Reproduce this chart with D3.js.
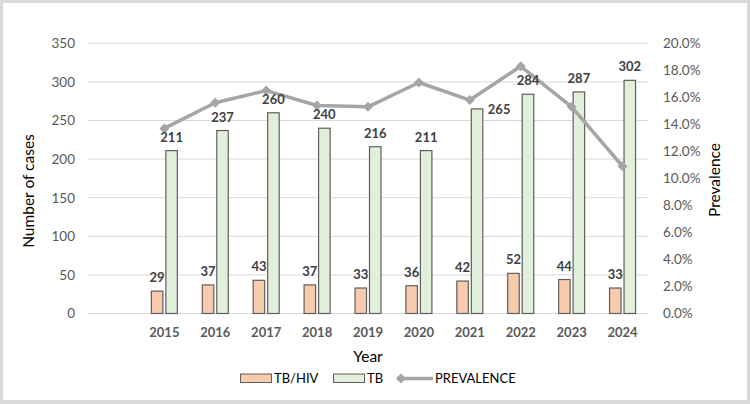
<!DOCTYPE html>
<html><head><meta charset="utf-8">
<script src="https://cdn.jsdelivr.net/npm/d3@7"></script>
<style>
html,body{margin:0;padding:0;background:#d9d9d9;}
svg{display:block;font-family:Lato,"Open Sans",sans-serif;}
</style></head>
<body>
<svg id="c" width="750" height="404"></svg>
<script>
const years = ["2015","2016","2017","2018","2019","2020","2021","2022","2023","2024"];
const tbHiv = [29,37,43,37,33,36,42,52,44,33];
const tb = [211,237,260,240,216,211,265,284,287,302];
const prevalence = [0.137,0.156,0.165,0.154,0.153,0.171,0.158,0.183,0.153,0.109];
const leftTicks = [0,50,100,150,200,250,300,350];
const rightTicks = [0,0.02,0.04,0.06,0.08,0.10,0.12,0.14,0.16,0.18,0.20];
const tbLabelSide = ["top","top","top","top","top","top","right","top","top","top"];

const svg = d3.select("#c");
svg.append("rect").attr("x",3).attr("y",3).attr("width",744).attr("height",397).attr("fill","#fff");

const x = d3.scaleBand().domain([""].concat(years)).range([88,648]).padding(0);
const y = d3.scaleLinear().domain([0,350]).range([313.5,43.3]);
const y2 = d3.scaleLinear().domain([0,0.2]).range([313.5,43.3]);
const cx = d => x(d) + x.bandwidth()/2;

// gridlines
svg.append("g").selectAll("line").data(leftTicks).join("line")
  .attr("x1",88).attr("x2",648).attr("y1",d=>y(d)).attr("y2",d=>y(d))
  .attr("stroke","#d9d9d9").attr("stroke-width",1);

// left axis
const gl = svg.append("g").attr("transform","translate(88,0)")
  .call(d3.axisLeft(y).tickValues(leftTicks).tickSize(0).tickPadding(13));
gl.select(".domain").remove();
gl.selectAll("text").attr("font-size",13.5).attr("fill","#595959").attr("font-family","Lato");

// right axis
const gr = svg.append("g").attr("transform","translate(648,0)")
  .call(d3.axisRight(y2).tickValues(rightTicks).tickSize(0).tickPadding(15).tickFormat(d3.format(".1%")));
gr.select(".domain").remove();
gr.selectAll("text").attr("font-size",13.5).attr("fill","#595959").attr("font-family","Lato");

// x axis
const gx = svg.append("g").attr("transform","translate(0,313.5)")
  .call(d3.axisBottom(x).tickSize(0).tickPadding(14));
gx.select(".domain").remove();
gx.selectAll("text").attr("font-size",13).attr("font-weight","bold").attr("fill","#595959").attr("font-family","Lato");

const bw = 11.5, gap = 1.5;
// TB/HIV bars
svg.append("g").selectAll("rect").data(years).join("rect")
  .attr("x",(d)=>cx(d)-gap-bw).attr("width",bw)
  .attr("y",(d,i)=>y(tbHiv[i])).attr("height",(d,i)=>y(0)-y(tbHiv[i]))
  .attr("fill","#f8cbad").attr("stroke","#5f5f5f").attr("stroke-width",1.2);
// TB bars
svg.append("g").selectAll("rect").data(years).join("rect")
  .attr("x",(d)=>cx(d)+gap).attr("width",bw)
  .attr("y",(d,i)=>y(tb[i])).attr("height",(d,i)=>y(0)-y(tb[i]))
  .attr("fill","#e2efda").attr("stroke","#5f5f5f").attr("stroke-width",1.2);

// line
const line = d3.line().x(d=>cx(d.year)).y(d=>y2(d.v));
const pts = years.map((yr,i)=>({year:yr,v:prevalence[i]}));
svg.append("path").datum(pts).attr("d",line).attr("fill","none")
  .attr("stroke","#a5a5a5").attr("stroke-width",3.5).attr("stroke-linejoin","round");
const dm = 5;
svg.append("g").selectAll("path").data(pts).join("path")
  .attr("d",d=>`M${cx(d.year)},${y2(d.v)-dm}L${cx(d.year)+dm},${y2(d.v)}L${cx(d.year)},${y2(d.v)+dm}L${cx(d.year)-dm},${y2(d.v)}Z`)
  .attr("fill","#a5a5a5");

// labels
svg.append("g").selectAll("text").data(years).join("text")
  .attr("x",d=>cx(d)-gap-bw/2).attr("y",(d,i)=>y(tbHiv[i])-9)
  .attr("text-anchor","middle").attr("font-size",13).attr("font-weight","bold").attr("fill","#404040")
  .text((d,i)=>tbHiv[i]);
svg.append("g").selectAll("text").data(years).join("text")
  .attr("x",(d,i)=>tbLabelSide[i]==="right"? cx(d)+gap+bw+5 : cx(d)+gap+bw/2)
  .attr("y",(d,i)=>tbLabelSide[i]==="right"? y(tb[i])+5 : y(tb[i])-9)
  .attr("text-anchor",(d,i)=>tbLabelSide[i]==="right"?"start":"middle")
  .attr("font-size",13).attr("font-weight","bold").attr("fill","#404040")
  .text((d,i)=>tb[i]);

// axis titles
svg.append("text").attr("transform","translate(34,191) rotate(-90)").attr("text-anchor","middle")
  .attr("font-size",15.5).attr("fill","#000").text("Number of cases");
svg.append("text").attr("transform","translate(720,180) rotate(-90)").attr("text-anchor","middle")
  .attr("font-size",15.5).attr("fill","#000").text("Prevalence");
svg.append("text").attr("x",368).attr("y",362).attr("text-anchor","middle")
  .attr("font-size",15.5).attr("fill","#000").text("Year");

// legend
const lg = svg.append("g");
lg.append("rect").attr("x",240.5).attr("y",374).attr("width",31).attr("height",8.5).attr("fill","#f8cbad").attr("stroke","#5f5f5f").attr("stroke-width",1);
lg.append("text").attr("x",274).attr("y",383).attr("font-size",13).attr("fill","#000").text("TB/HIV");
lg.append("rect").attr("x",333.5).attr("y",374).attr("width",31).attr("height",8.5).attr("fill","#e2efda").attr("stroke","#5f5f5f").attr("stroke-width",1);
lg.append("text").attr("x",367).attr("y",383).attr("font-size",13).attr("fill","#000").text("TB");
lg.append("line").attr("x1",397).attr("x2",433).attr("y1",378.5).attr("y2",378.5).attr("stroke","#a5a5a5").attr("stroke-width",3.5);
lg.append("path").attr("d",`M401,${378.5-dm}L${401+dm},378.5L401,${378.5+dm}L${401-dm},378.5Z`).attr("fill","#a5a5a5");
lg.append("text").attr("x",435).attr("y",383).attr("font-size",13).attr("fill","#000").text("PREVALENCE");
</script>
</body></html>
